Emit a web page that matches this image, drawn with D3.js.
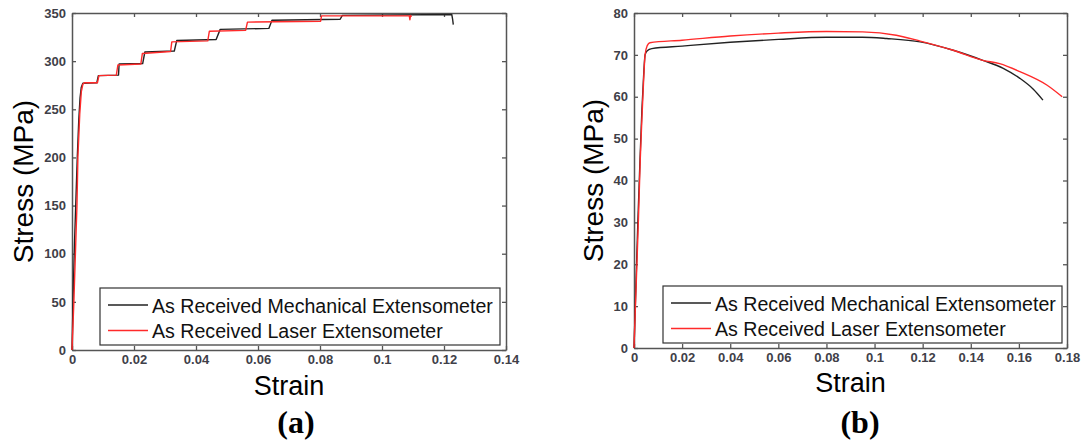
<!DOCTYPE html>
<html>
<head>
<meta charset="utf-8">
<script src="https://cdn.jsdelivr.net/npm/d3@7"></script>
<style>
  body { margin: 0; background: #fff; }
  svg { display: block; }
</style>
</head>
<body>
<svg id="chart" width="1081" height="441"></svg>
<script>
// ---- data (strain, stress in MPa) ----
const mechA = [[0,0],[0.0004,60],[0.0008,110],[0.0012,150],[0.0017,200],[0.0022,240],[0.0026,262],[0.003,273],[0.0035,277],
  [0.008,277.5],[0.0085,285],[0.015,285.5],[0.0152,297],[0.0228,297.5],[0.0235,309.5],[0.033,310.5],[0.0338,321.5],
  [0.0465,322.5],[0.0478,333],[0.0635,334],[0.0645,342.5],[0.0865,343.5],[0.0872,347.5],[0.1225,348.5],[0.1228,343],[0.123,338]];
const laserA = [[0,0],[0.0006,50],[0.0012,110],[0.0016,150],[0.0019,200],[0.0025,245],[0.003,268],[0.0035,276],[0.004,277.5],
  [0.0082,277.5],[0.0087,285],[0.0143,285.5],[0.0148,296],[0.0222,297],[0.0227,308],[0.0318,310],[0.0322,320],
  [0.0438,321],[0.0443,331],[0.056,332],[0.0566,340.5],[0.0802,341.5],[0.0805,347],[0.1088,347],[0.109,343],[0.1092,347.5],[0.1095,346]];
const mechB = [[0,0],[0.0008,15],[0.0016,30],[0.0025,45],[0.0033,57],[0.004,65],[0.0046,70],[0.0055,71],[0.0074,71.5],
  [0.02,72.1],[0.04,73.0],[0.06,73.7],[0.08,74.2],[0.095,74.2],[0.105,73.9],[0.119,73.1],[0.1327,71.1],[0.145,68.7],
  [0.1535,66.8],[0.1604,64.4],[0.166,61.8],[0.170,59.2]];
const laserB = [[0,0],[0.0009,15],[0.0018,30],[0.0026,45],[0.0033,55],[0.004,64],[0.0046,70],[0.0055,72.2],[0.0066,72.9],
  [0.02,73.5],[0.04,74.5],[0.06,75.2],[0.08,75.6],[0.095,75.5],[0.109,74.7],[0.119,73.3],[0.1327,71.1],[0.145,68.7],
  [0.152,67.9],[0.1604,66.0],[0.1716,62.8],[0.178,60.0]];

const xTicksA = [0,0.02,0.04,0.06,0.08,0.1,0.12,0.14];
const yTicksA = [0,50,100,150,200,250,300,350];
const xTicksB = [0,0.02,0.04,0.06,0.08,0.1,0.12,0.14,0.16,0.18];
const yTicksB = [0,10,20,30,40,50,60,70,80];
const seriesNames = ['As Received Mechanical Extensometer', 'As Received Laser Extensometer'];
const seriesColors = ['#222222', '#ff2a2a'];

const svg = d3.select('#chart');

function drawPanel(cfg) {
  const { left, right, top, bottom } = cfg;
  const x = d3.scaleLinear().domain([0, d3.max(cfg.xTicks)]).range([left, right]);
  const y = d3.scaleLinear().domain([0, d3.max(cfg.yTicks)]).range([bottom, top]);
  const g = svg.append('g');

  const styleAxis = sel => {
    sel.select('.domain').attr('stroke', '#555').attr('stroke-width', 1.5);
    sel.selectAll('.tick line').attr('stroke', '#555').attr('stroke-width', 1.3);
    sel.selectAll('.tick text').attr('fill', '#404048').attr('font-weight', 'bold')
      .attr('font-family', 'Liberation Sans, Arial, sans-serif').attr('font-size', 13);
  };

  // 底部 / 左侧坐标轴
  g.append('g').attr('transform', `translate(0,${bottom})`)
    .call(d3.axisBottom(x).tickValues(cfg.xTicks).tickFormat(d => String(d)).tickSizeInner(-4).tickSizeOuter(0).tickPadding(5))
    .call(styleAxis);
  g.append('g').attr('transform', `translate(${left},0)`)
    .call(d3.axisLeft(y).tickValues(cfg.yTicks).tickFormat(d => String(d)).tickSizeInner(-4).tickSizeOuter(0).tickPadding(6))
    .call(styleAxis);
  // 顶部 / 右侧镜像刻度
  g.append('g').attr('transform', `translate(0,${top})`)
    .call(d3.axisTop(x).tickValues(cfg.xTicks).tickFormat('').tickSizeInner(-4).tickSizeOuter(0))
    .call(styleAxis);
  g.append('g').attr('transform', `translate(${right},0)`)
    .call(d3.axisRight(y).tickValues(cfg.yTicks).tickFormat('').tickSizeInner(-4).tickSizeOuter(0))
    .call(styleAxis);

  // 曲线
  const line = d3.line().x(d => x(d[0])).y(d => y(d[1])).curve(cfg.curve);
  cfg.series.forEach((s, i) => {
    g.append('path').datum(s)
      .attr('fill', 'none')
      .attr('stroke', seriesColors[i])
      .attr('stroke-width', 1.4)
      .attr('stroke-linejoin', 'round')
      .attr('d', line);
  });

  // 图例
  const lg = cfg.legend;
  g.append('rect').attr('x', lg.x).attr('y', lg.y).attr('width', lg.w).attr('height', lg.h)
    .attr('fill', '#fff').attr('stroke', '#333').attr('stroke-width', 1.2);
  seriesNames.forEach((name, i) => {
    const ly = lg.y + 17 + i * 25.5;
    g.append('line').attr('x1', lg.x + 8).attr('x2', lg.x + 48).attr('y1', ly).attr('y2', ly)
      .attr('stroke', seriesColors[i]).attr('stroke-width', 1.5);
    g.append('text').attr('x', lg.x + 52).attr('y', ly + 7.5)
      .attr('font-family', 'Liberation Sans, Arial, sans-serif').attr('font-size', 19.6)
      .attr('fill', '#111').text(name);
  });

  // 轴标题
  g.append('text').attr('x', (left + right) / 2).attr('y', cfg.xLabelY)
    .attr('text-anchor', 'middle').attr('font-family', 'Liberation Sans, Arial, sans-serif')
    .attr('font-size', 27).attr('fill', '#000').text('Strain');
  g.append('text').attr('transform', `translate(${cfg.yLabelX},${(top + bottom) / 2}) rotate(-90)`)
    .attr('text-anchor', 'middle').attr('font-family', 'Liberation Sans, Arial, sans-serif')
    .attr('font-size', 28).attr('fill', '#000').text('Stress (MPa)');

  // 子图编号
  g.append('text').attr('x', cfg.tagX).attr('y', 433)
    .attr('text-anchor', 'middle').attr('font-family', 'Liberation Serif, serif')
    .attr('font-weight', 'bold').attr('font-size', 32).attr('fill', '#000').text(cfg.tag);
}

drawPanel({
  left: 72, right: 506, top: 13, bottom: 350,
  xTicks: xTicksA, yTicks: yTicksA,
  series: [mechA, laserA], curve: d3.curveLinear,
  legend: { x: 100, y: 288, w: 400, h: 57 },
  xLabelY: 395, yLabelX: 33, tag: '(a)', tagX: 296
});

drawPanel({
  left: 634, right: 1067, top: 13, bottom: 348,
  xTicks: xTicksB, yTicks: yTicksB,
  series: [mechB, laserB], curve: d3.curveMonotoneX,
  legend: { x: 663, y: 286, w: 399, h: 57 },
  xLabelY: 392, yLabelX: 603, tag: '(b)', tagX: 860
});
</script>
</body>
</html>
